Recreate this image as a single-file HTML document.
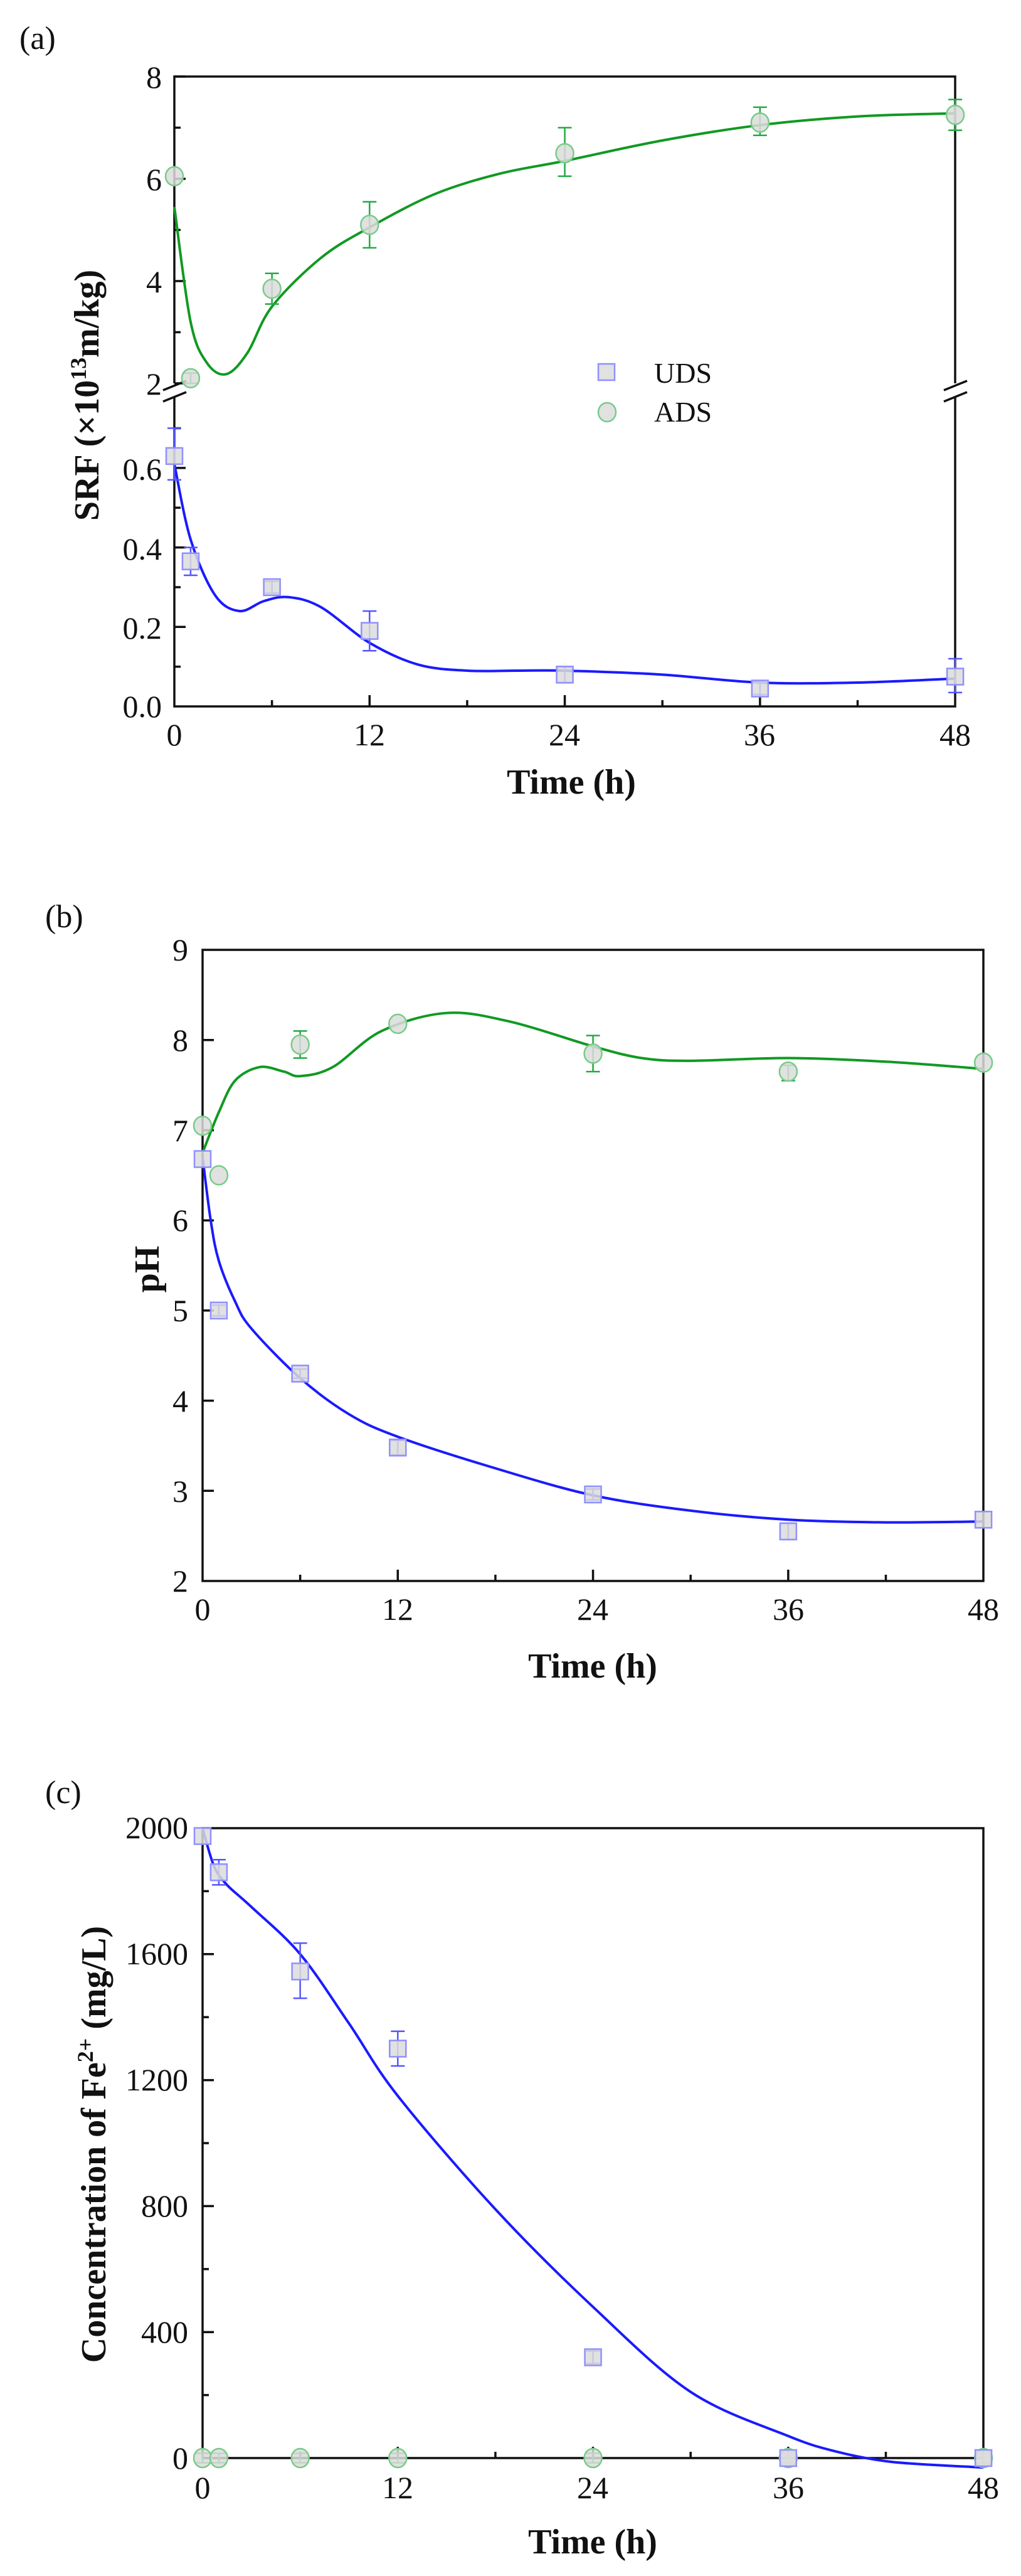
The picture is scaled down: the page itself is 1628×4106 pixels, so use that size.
<!DOCTYPE html>
<html><head><meta charset="utf-8"><style>
html,body{margin:0;padding:0;background:#fff;}
svg{display:block;font-family:"Liberation Serif",serif;}
</style></head><body>
<svg id="s" width="1628" height="4106" viewBox="0 0 1628 4106" xmlns="http://www.w3.org/2000/svg">
<rect width="1628" height="4106" fill="#fff"/>
<g font-size="50" fill="#111">
<!-- panel a texts -->
<text x="31" y="78" font-size="52">(a)</text>
<g text-anchor="end">
<text x="258" y="140">8</text><text x="258" y="303">6</text><text x="258" y="466">4</text><text x="258" y="629">2</text>
<text x="258" y="765">0.6</text><text x="258" y="892">0.4</text><text x="258" y="1018">0.2</text><text x="258" y="1143">0.0</text>
</g>
<g text-anchor="middle">
<text x="278" y="1188">0</text><text x="589" y="1188">12</text><text x="900" y="1188">24</text><text x="1211" y="1188">36</text><text x="1523" y="1188">48</text>
<text x="911" y="1265" font-weight="bold" font-size="56">Time (h)</text>
<text transform="translate(157,630) rotate(-90)" font-weight="bold" font-size="56">SRF (×10<tspan font-size="36" dy="-20">13</tspan><tspan dy="20">m/kg)</tspan></text>
</g>
<text x="1043" y="610" font-size="46">UDS</text>
<text x="1043" y="672" font-size="46">ADS</text>
<!-- panel b texts -->
<text x="72" y="1478" font-size="52">(b)</text>
<g text-anchor="end">
<text x="300" y="1531">9</text><text x="300" y="1675">8</text><text x="300" y="1819">7</text><text x="300" y="1962">6</text><text x="300" y="2106">5</text><text x="300" y="2250">4</text><text x="300" y="2394">3</text><text x="300" y="2537">2</text>
</g>
<g text-anchor="middle">
<text x="323" y="2582">0</text><text x="634" y="2582">12</text><text x="945" y="2582">24</text><text x="1257" y="2582">36</text><text x="1568" y="2582">48</text>
<text x="945" y="2674" font-weight="bold" font-size="56">Time (h)</text>
<text transform="translate(253,2023) rotate(-90)" font-weight="bold" font-size="56">pH</text>
</g>
<!-- panel c texts -->
<text x="72" y="2874" font-size="52">(c)</text>
<g text-anchor="end">
<text x="300" y="2930">2000</text><text x="300" y="3131">1600</text><text x="300" y="3332">1200</text><text x="300" y="3533">800</text><text x="300" y="3734">400</text><text x="300" y="3935">0</text>
</g>
<g text-anchor="middle">
<text x="323" y="3982">0</text><text x="634" y="3982">12</text><text x="945" y="3982">24</text><text x="1257" y="3982">36</text><text x="1568" y="3982">48</text>
<text x="945" y="4070" font-weight="bold" font-size="56">Time (h)</text>
<text transform="translate(168,3418) rotate(-90)" font-weight="bold" font-size="56">Concentration of Fe<tspan font-size="36" dy="-20">2+</tspan><tspan dy="20"> (mg/L)</tspan></text>
</g>
</g>
<g id="g"></g>
</svg>
<script>
var NS="http://www.w3.org/2000/svg",G=document.getElementById("g");
function el(t,a){var e=document.createElementNS(NS,t);for(var k in a)e.setAttribute(k,a[k]);G.appendChild(e);return e;}
function line(x1,y1,x2,y2,c,w){el("line",{x1:x1,y1:y1,x2:x2,y2:y2,stroke:c||"#111","stroke-width":w||3.5});}
function curve(pts,c){var d="M"+pts[0][0]+","+pts[0][1];
for(var i=0;i<pts.length-1;i++){var p0=pts[i-1]||pts[i],p1=pts[i],p2=pts[i+1],p3=pts[i+2]||p2;
d+=" C"+(p1[0]+(p2[0]-p0[0])/6)+","+(p1[1]+(p2[1]-p0[1])/6)+" "+(p2[0]-(p3[0]-p1[0])/6)+","+(p2[1]-(p3[1]-p1[1])/6)+" "+p2[0]+","+p2[1];}
el("path",{d:d,fill:"none",stroke:c,"stroke-width":4});}
function sq(x,y,lo,hi){if(lo!==undefined){line(x,lo,x,hi,"#5555ff",2.5);line(x-11,lo,x+11,lo,"#5555ff",2.5);line(x-11,hi,x+11,hi,"#5555ff",2.5);}
el("rect",{x:x-13,y:y-13,width:26,height:26,fill:"#dcdcdc","fill-opacity":0.85,stroke:"#9090ff","stroke-width":2.5});}
function ci(x,y,lo,hi){if(lo!==undefined){line(x,lo,x,hi,"#22aa44",2.5);line(x-11,lo,x+11,lo,"#22aa44",2.5);line(x-11,hi,x+11,hi,"#22aa44",2.5);}
el("ellipse",{cx:x,cy:y,rx:14,ry:15,fill:"#dcdcdc","fill-opacity":0.85,stroke:"#77cc88","stroke-width":2.5});}
function frame(L,R,T,B,xt){el("rect",{x:L,y:T,width:R-L,height:B-T,fill:"none",stroke:"#111","stroke-width":3.5});
for(var h=6;h<48;h+=6){var x=xt(h);line(x,B,x,B-(h%12?10:18));}}
// ---- panel a
var ax=function(t){return 278+t*25.94},yU=function(v){return 611-(v-2)*81.5},yL=function(v){return 1126-v*633.5};
el("rect",{x:278,y:122,width:1245,height:1004,fill:"none",stroke:"#111","stroke-width":3.5});
el("rect",{x:270,y:611,width:20,height:21,fill:"#fff"});el("rect",{x:1513,y:611,width:20,height:21,fill:"#fff"});
line(260,622,297,607);line(260,640,297,625);line(1505,622,1542,607);line(1505,640,1542,625);
for(var h=6;h<48;h+=6){var x=ax(h);line(x,1126,x,1126-(h%12?10:18));}
[2,4,6,8].forEach(function(v){line(278,yU(v),296,yU(v));});[3,5,7].forEach(function(v){line(278,yU(v),288,yU(v));});
[0.2,0.4,0.6].forEach(function(v){line(278,yL(v),296,yL(v));});[0.1,0.3,0.5,0.7].forEach(function(v){line(278,yL(v),288,yL(v));});
curve([[0,5.45],[1,3.2],[2,2.4],[3.2,2.18],[4.5,2.6],[6,3.5],[9,4.45],[12,5.05],[16,5.7],[20,6.1],[24,6.35],[30,6.75],[36,7.05],[42,7.22],[48,7.28]].map(function(p){return [ax(p[0]),yU(p[1])]}),"#119922");
curve([[0,0.61],[1,0.42],[2.5,0.28],[4,0.24],[5.5,0.265],[7,0.275],[9,0.25],[12,0.16],[15,0.105],[18,0.09],[21,0.09],[24,0.09],[30,0.08],[36,0.06],[42,0.06],[48,0.07]].map(function(p){return [ax(p[0]),yL(p[1])]}),"#1a1aff");
ci(ax(0),yU(6.05));ci(ax(1),yU(2.1),yU(2.0),yU(2.2));ci(ax(6),yU(3.85),yU(3.55),yU(4.15));ci(ax(12),yU(5.1),yU(4.65),yU(5.55));ci(ax(24),yU(6.5),yU(6.05),yU(7.0));ci(ax(36),yU(7.1),yU(6.85),yU(7.4));ci(ax(48),yU(7.25),yU(6.95),yU(7.55));
sq(ax(0),yL(0.63),yL(0.57),yL(0.70));sq(ax(1),yL(0.365),yL(0.33),yL(0.40));sq(ax(6),yL(0.30),yL(0.285),yL(0.315));sq(ax(12),yL(0.19),yL(0.14),yL(0.24));sq(ax(24),yL(0.08),yL(0.06),yL(0.10));sq(ax(36),yL(0.045),yL(0.03),yL(0.06));sq(ax(48),yL(0.075),yL(0.035),yL(0.12));
sq(967,593);ci(968,657);
// ---- panel b
var bx=function(t){return 323+t*25.94},by=function(v){return 2520-(v-2)*143.7};
frame(323,1568,1514,2520,bx);
for(var v=3;v<9;v++)line(323,by(v),341,by(v));
curve([[0,6.75],[1,7.2],[2,7.55],[3.5,7.7],[5,7.65],[6,7.6],[8,7.7],[11,8.1],[15,8.3],[19,8.2],[24,7.93],[27,7.8],[30,7.77],[36,7.8],[42,7.76],[48,7.68]].map(function(p){return [bx(p[0]),by(p[1])]}),"#119922");
curve([[0,6.7],[0.5,6.0],[1,5.55],[2,5.1],[3,4.8],[6,4.25],[9,3.85],[12,3.6],[18,3.25],[24,2.95],[30,2.78],[36,2.68],[42,2.65],[48,2.66]].map(function(p){return [bx(p[0]),by(p[1])]}),"#1a1aff");
ci(bx(0),by(7.05));ci(bx(1),by(6.5));ci(bx(6),by(7.95),by(7.8),by(8.1));ci(bx(12),by(8.18));ci(bx(24),by(7.85),by(7.65),by(8.05));ci(bx(36),by(7.65),by(7.55),by(7.72));ci(bx(48),by(7.75));
sq(bx(0),by(6.68));sq(bx(1),by(5.0),by(4.94),by(5.06));sq(bx(6),by(4.3),by(4.25),by(4.35));sq(bx(12),by(3.48),by(3.4),by(3.56));sq(bx(24),by(2.96),by(2.9),by(3.02));sq(bx(36),by(2.55),by(2.46),by(2.64));sq(bx(48),by(2.68));
// ---- panel c
var cy=function(v){return 3918-v*0.502};
frame(323,1568,2914,3918,bx);
for(var v=200;v<2000;v+=200)line(323,cy(v),323+(v%400?10:18),cy(v));
curve([[0,2000],[0.7,1880],[1.5,1820],[3,1750],[6,1600],[9,1380],[12,1150],[18,790],[24,480],[30,210],[36,70],[39,20],[42,-10],[45,-22],[48,-30]].map(function(p){return [bx(p[0]),cy(p[1])]}),"#1a1aff");
[0,1,6,12,24,36,48].forEach(function(t){ci(bx(t),cy(0),cy(-15),cy(15));});
sq(bx(0),cy(1975));sq(bx(1),cy(1860),cy(1820),cy(1900));sq(bx(6),cy(1545),cy(1460),cy(1635));sq(bx(12),cy(1300),cy(1245),cy(1355));sq(bx(24),cy(320),cy(300),cy(340));sq(bx(36),cy(0));sq(bx(48),cy(0));
</script>
</body></html>
